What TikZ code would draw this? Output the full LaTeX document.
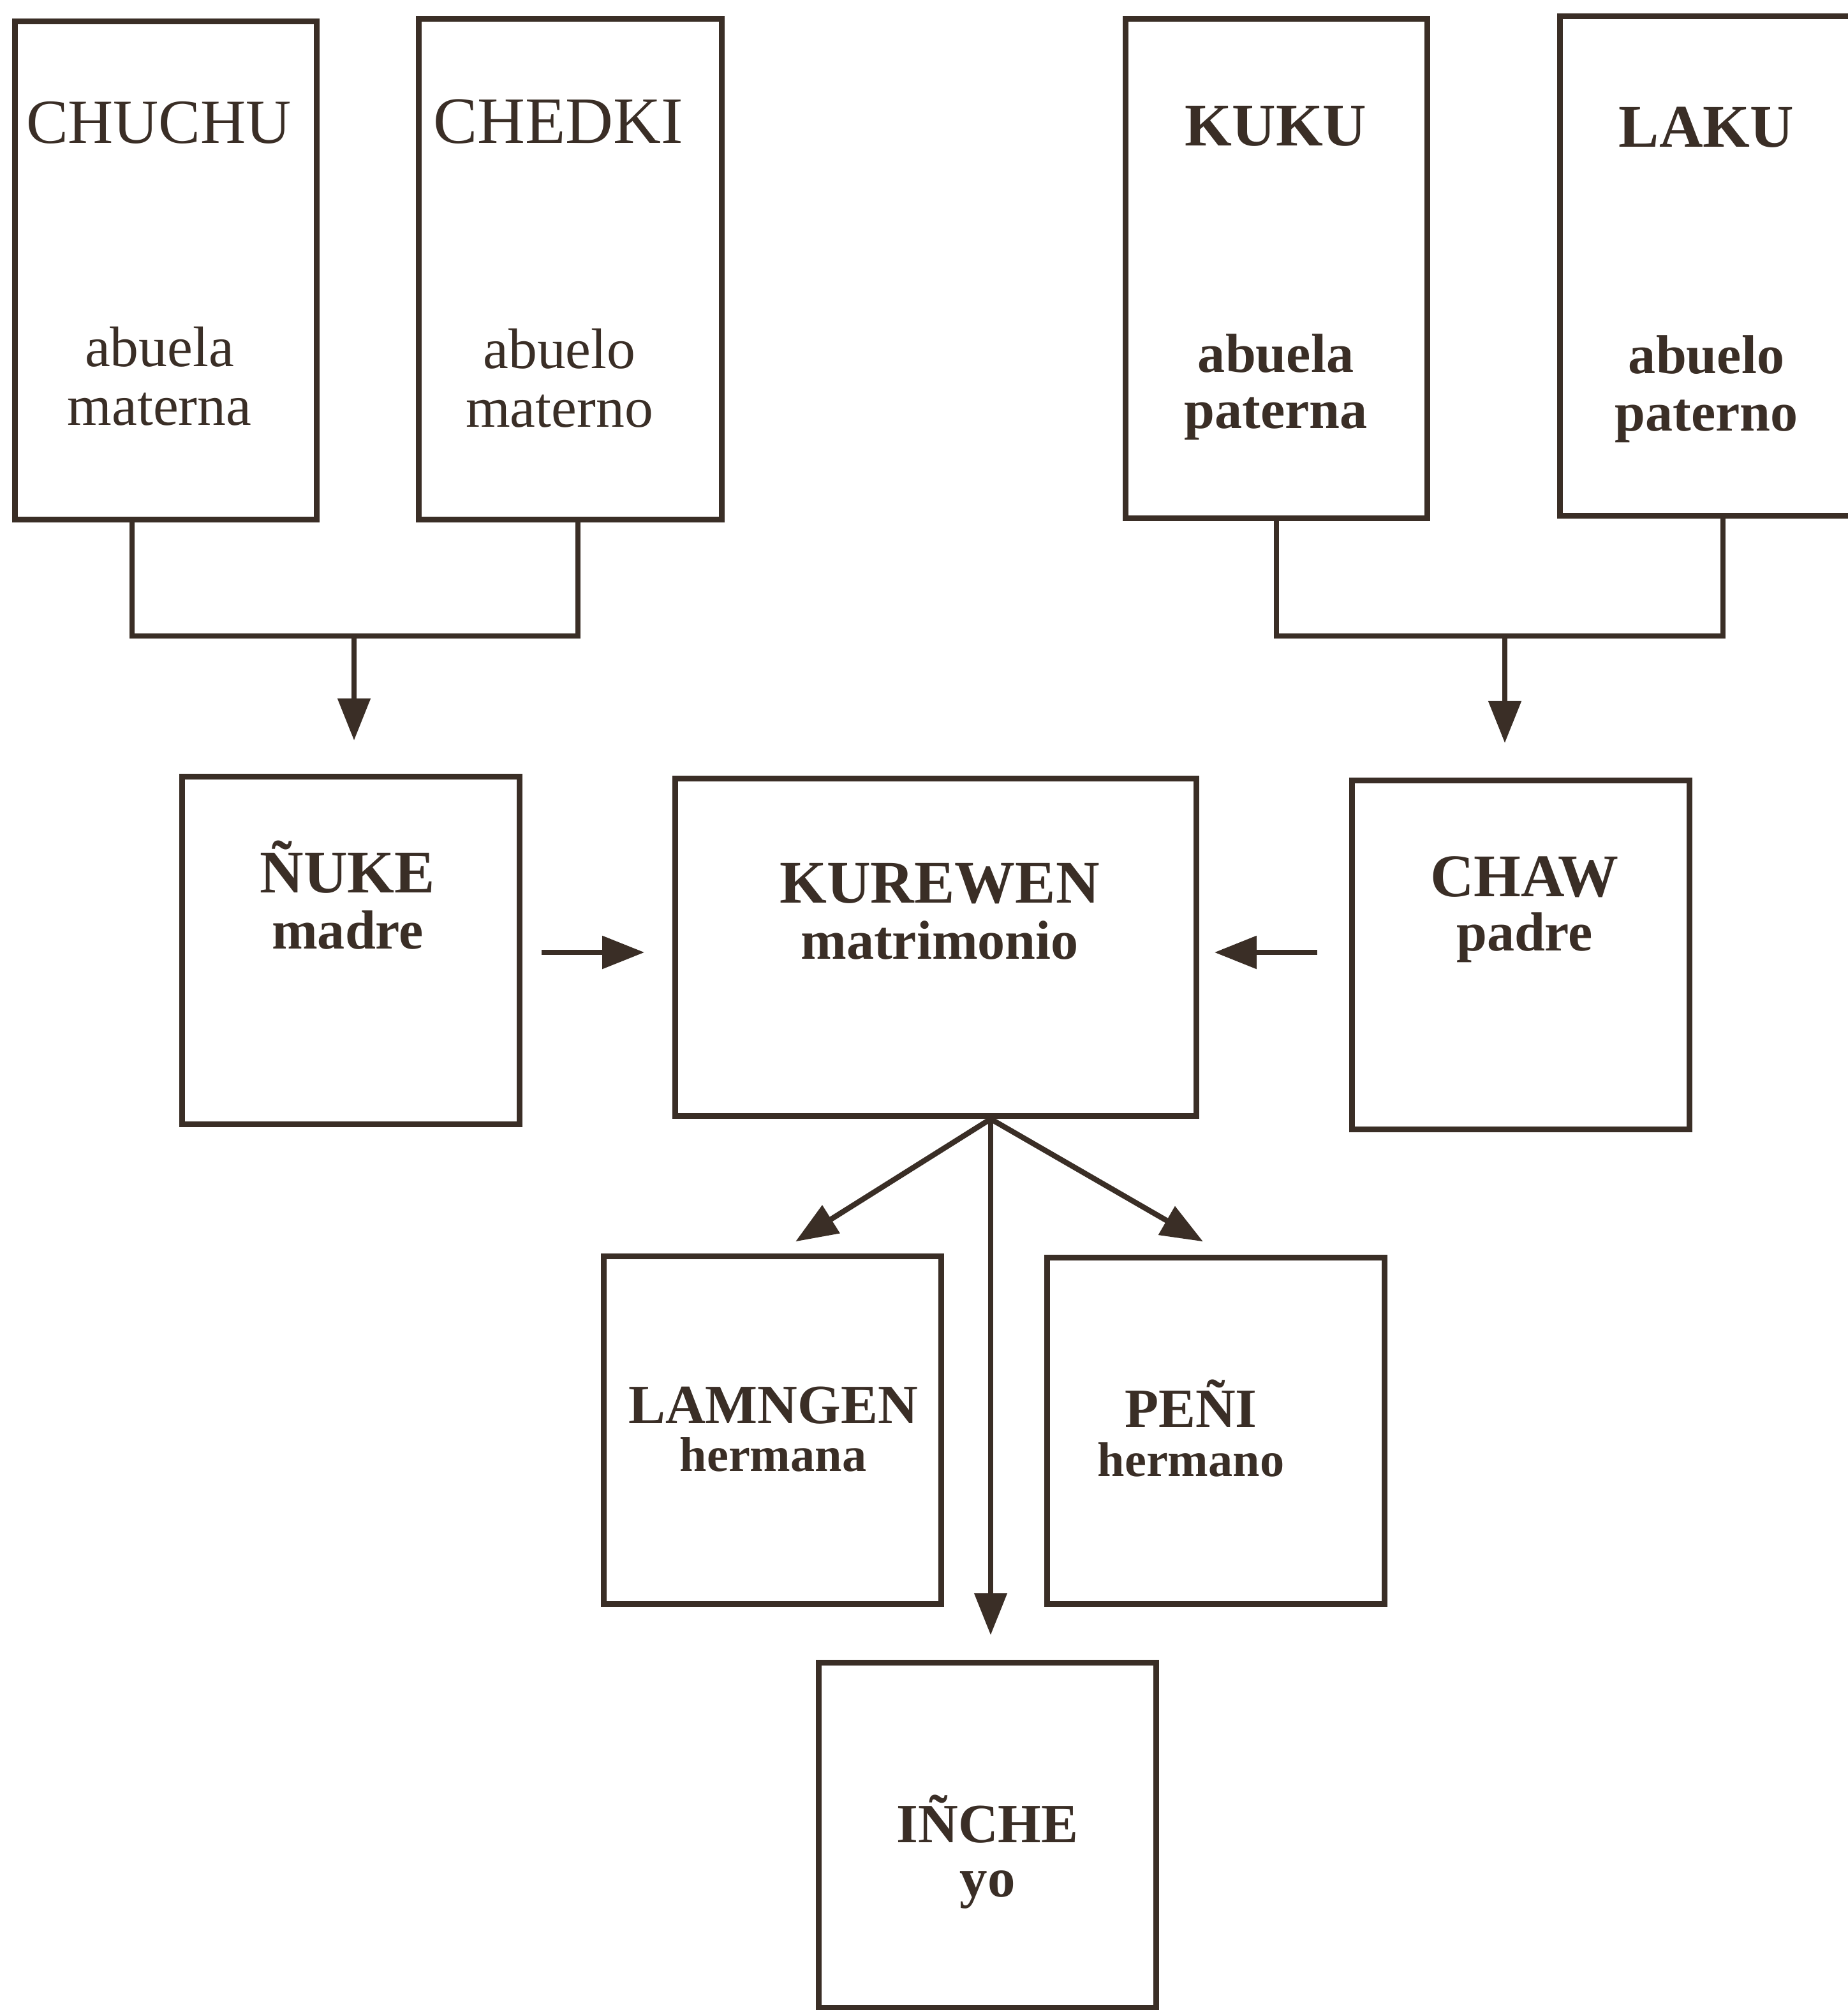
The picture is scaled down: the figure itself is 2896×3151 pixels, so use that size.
\documentclass[tikz,border=0pt]{standalone}
\usepackage{fontspec}
\setmainfont{Liberation Serif}
\usetikzlibrary{arrows.meta,calc}
\definecolor{ink}{RGB}{58,46,38}
\newcommand\fsz[1]{\fontsize{#1}{#1}\selectfont}
\begin{document}
\begin{tikzpicture}[x=0.01cm,y=-0.01cm,
  box/.style={draw=ink,line width=0.09cm,inner sep=0pt,rectangle},
  ttl/.style={text=ink,anchor=base,inner sep=0pt,font=\fsz{28}},
  sub/.style={text=ink,anchor=base,inner sep=0pt,font=\fsz{25.5}},
  ttlb/.style={text=ink,anchor=base,inner sep=0pt,font=\bfseries\fsz{27}},
  subb/.style={text=ink,anchor=base,inner sep=0pt,font=\bfseries\fsz{24.5}},
  ttlc/.style={text=ink,anchor=base,inner sep=0pt,font=\bfseries\fsz{24.7}},
  subc/.style={text=ink,anchor=base,inner sep=0pt,font=\bfseries\fsz{21.7}},
  wire/.style={draw=ink,line width=0.085cm},
  arr/.style={wire,-{Triangle[length=0.66cm,width=0.5cm]}}]
\useasboundingbox (0,0) rectangle (2896,3151);
% boxes
\node[box,minimum width=4.72cm,minimum height=7.80cm] (chuchu) at (260,424) {};
\node[box,minimum width=4.74cm,minimum height=7.84cm] (chedki) at (894,422) {};
\node[box,minimum width=4.72cm,minimum height=7.82cm] (kuku) at (2001,421) {};
\node[box,minimum width=4.74cm,minimum height=7.82cm] (laku) at (2683,417) {};
\node[box,minimum width=5.29cm,minimum height=5.45cm] (nuke) at (550,1490) {};
\node[box,minimum width=8.16cm,minimum height=5.29cm] (kur) at (1467,1485) {};
\node[box,minimum width=5.29cm,minimum height=5.47cm] (chaw) at (2384,1497) {};
\node[box,minimum width=5.28cm,minimum height=5.44cm] (lam) at (1211,2242) {};
\node[box,minimum width=5.29cm,minimum height=5.42cm] (peni) at (1906,2243) {};
\node[box,minimum width=5.29cm,minimum height=5.40cm] (inche) at (1548,2877) {};
% texts
\node[ttl] (t1) at (249,224) {CHUCHU};
\node[sub] (t1a) at (250,574) {abuela};
\node[sub] (t1b) at (250,666) {materna};
\node[ttl,font=\fsz{29.5}] (t2) at (875,224) {CHEDKI};
\node[sub] (t2a) at (877,577) {abuelo};
\node[sub] (t2b) at (877,669) {materno};
\node[ttlb] (t3) at (2000,228) {KUKU};
\node[subb] (t3a) at (2000,583) {abuela};
\node[subb] (t3b) at (2000,671) {paterna};
\node[ttlb] (t4) at (2675,230) {LAKU};
\node[subb] (t4a) at (2675,585) {abuelo};
\node[subb] (t4b) at (2675,675) {paterno};
\node[ttlb] (t5) at (545,1399) {ÑUKE};
\node[subb] (t5a) at (545,1487) {madre};
\node[ttlb] (t6) at (1473,1415) {KUREWEN};
\node[subb] (t6a) at (1473,1503) {matrimonio};
\node[ttlb] (t7) at (2390,1405) {CHAW};
\node[subb] (t7a) at (2390,1490) {padre};
\node[ttlc] (t8) at (1212,2231) {LAMNGEN};
\node[subc] (t8a) at (1212,2306) {hermana};
\node[ttlc] (t9) at (1867,2237) {PEÑI};
\node[subc] (t9a) at (1867,2314) {hermano};
\node[ttlc] (t10) at (1548,2888) {IÑCHE};
\node[ttlc] (t10a) at (1548,2973) {yo};
% connectors
\coordinate (lm) at (555,997);
\coordinate (rm) at (2359,997);
\draw[wire] ($(chuchu.south)+(-53,0)$) |- (lm) -| ($(chedki.south)+(12,0)$);
\draw[arr,shorten >=0.52cm] (lm) -- (lm |- nuke.north);
\draw[wire] (kuku.south) |- (rm) -| ($(laku.south)+(18,0)$);
\draw[arr,shorten >=0.54cm] (rm) -- (rm |- chaw.north);
\draw[arr,shorten <=0.30cm,shorten >=0.44cm] ($(nuke.east)+(0,3)$) -- ($(nuke.east -| kur.west)+(0,3)$);
\draw[arr,shorten <=0.50cm,shorten >=0.24cm] ($(chaw.west)+(0,-4)$) -- ($(chaw.west -| kur.east)+(0,-4)$);
\coordinate (kb) at ($(kur.south)+(86,0)$);
\draw[arr] (kb) -- ($(lam.north)+(36,-19)$);
\draw[arr] (kb) -- ($(peni.north)+(-20,-21)$);
\draw[arr,shorten >=0.39cm] (kb) -- (kb |- inche.north);
\end{tikzpicture}
\end{document}
